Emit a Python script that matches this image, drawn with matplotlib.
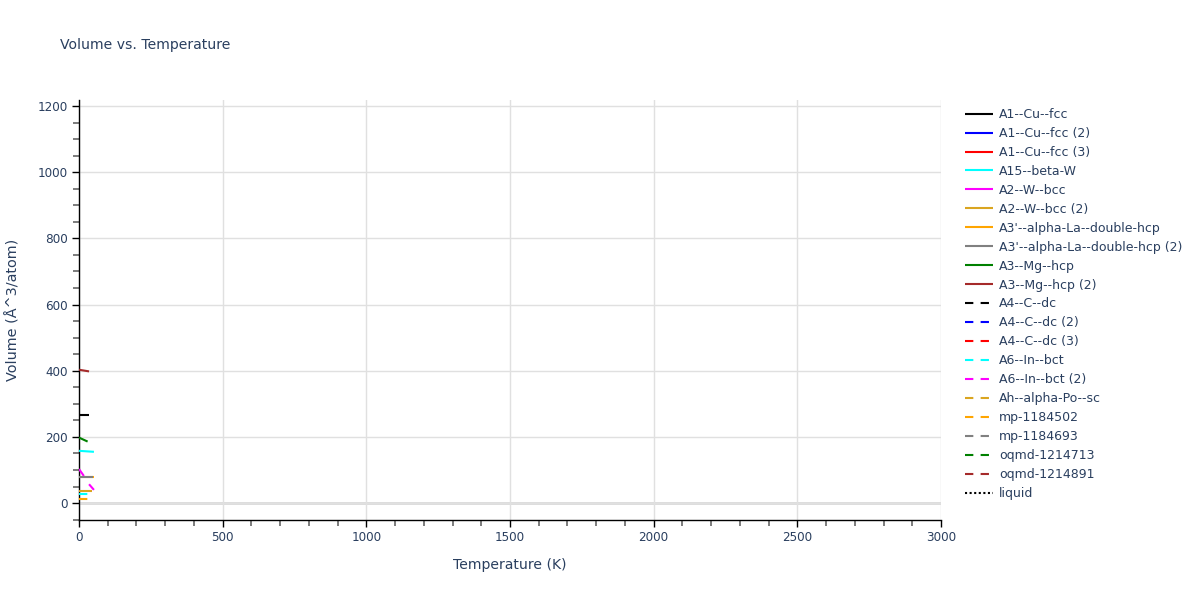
import matplotlib
matplotlib.use("Agg")
import matplotlib.pyplot as plt
from matplotlib.ticker import MultipleLocator

plt.rcParams['font.family'] = ['DejaVu Sans']

# ---- data ----
names = ["A1--Cu--fcc", "A1--Cu--fcc (2)", "A1--Cu--fcc (3)", "A15--beta-W",
         "A2--W--bcc", "A2--W--bcc (2)", "A3'--alpha-La--double-hcp",
         "A3'--alpha-La--double-hcp (2)", "A3--Mg--hcp", "A3--Mg--hcp (2)",
         "A4--C--dc", "A4--C--dc (2)", "A4--C--dc (3)", "A6--In--bct",
         "A6--In--bct (2)", "Ah--alpha-Po--sc", "mp-1184502", "mp-1184693",
         "oqmd-1214713", "oqmd-1214891", "liquid"]
colors = ["black", "blue", "red", "cyan", "magenta", "goldenrod", "orange", "gray",
          "green", "brown", "black", "blue", "red", "cyan", "magenta", "goldenrod",
          "orange", "gray", "green", "brown", "black"]
styles = ["solid"] * 10 + ["dashed"] * 10 + ["dotted"]

temps = {
    "A1--Cu--fcc": [0, 35],
    "A15--beta-W": [0, 52],
    "A2--W--bcc": [0, 17],
    "A2--W--bcc (2)": [0, 45],
    "A3'--alpha-La--double-hcp": [0, 52],
    "A3'--alpha-La--double-hcp (2)": [0, 50],
    "A3--Mg--hcp": [0, 30],
    "A3--Mg--hcp (2)": [0, 35],
    "A6--In--bct": [0, 35],
    "A6--In--bct (2)": [35, 52],
    "mp-1184502": [0, 35],
}
volumes = {
    "A1--Cu--fcc": [265, 265],
    "A15--beta-W": [158, 155],
    "A2--W--bcc": [103, 82],
    "A2--W--bcc (2)": [38, 38],
    "A3'--alpha-La--double-hcp": [80, 80],
    "A3'--alpha-La--double-hcp (2)": [79, 79],
    "A3--Mg--hcp": [198, 186],
    "A3--Mg--hcp (2)": [403, 398],
    "A6--In--bct": [27, 27],
    "A6--In--bct (2)": [57, 40],
    "mp-1184502": [13, 13],
}

x_ticks = [0, 500, 1000, 1500, 2000, 2500, 3000]
y_ticks = [0, 200, 400, 600, 800, 1000, 1200]

# ---- figure ----
fig = plt.figure(figsize=(12, 6), dpi=100)
ax = fig.add_axes([79 / 1200, 1 - 520 / 600, (941 - 79) / 1200, 420 / 600])

text_c = "#2a3f5f"
dash_map = {"solid": "-", "dashed": (0, (4, 3.5)), "dotted": (0, (1, 1.2))}

handles = []
for n, c, s in zip(names, colors, styles):
    t = temps.get(n, [])
    v = volumes.get(n, [])
    h, = ax.plot(t, v, color=c, lw=1.5, linestyle=dash_map[s], label=n,
                 solid_capstyle="butt", dash_capstyle="butt", zorder=3)
    handles.append(h)

ax.set_xlim(0, 3000)
ax.set_ylim(-51, 1218)
ax.set_xticks(x_ticks)
ax.set_yticks(y_ticks)
ax.xaxis.set_minor_locator(MultipleLocator(100))
ax.yaxis.set_minor_locator(MultipleLocator(50))

ax.grid(True, which="major", color="#e0e0e0", lw=1, zorder=0)
ax.axhline(0, color="#d9d9d9", lw=2, zorder=1)

for sp in ["top", "right"]:
    ax.spines[sp].set_visible(False)
for sp in ["left", "bottom"]:
    ax.spines[sp].set_color("black")
    ax.spines[sp].set_linewidth(1)

ax.tick_params(axis="both", which="major", length=5, width=1, color="black",
               labelcolor=text_c, labelsize=8.64, pad=3)
ax.tick_params(axis="both", which="minor", length=4, width=1.2, color="#666666")

ax.set_xlabel("Temperature (K)", color=text_c, fontsize=10.08, labelpad=10)
ax.set_ylabel("Volume (Å^3/atom)", color=text_c, fontsize=10.4, labelpad=12)

fig.text(60 / 1200, 1 - 45 / 600, "Volume vs. Temperature", color=text_c,
         fontsize=10.1, va="center", ha="left")

leg = fig.legend(handles=handles, loc="upper left",
                 bbox_to_anchor=(965 / 1200, 1 - 108 / 600), frameon=False,
                 fontsize=9, labelspacing=0.476, handlelength=2.24,
                 handletextpad=0.48, borderaxespad=0, borderpad=0)
for t in leg.get_texts():
    t.set_color(text_c)

fig.savefig("out.png", dpi=100)
